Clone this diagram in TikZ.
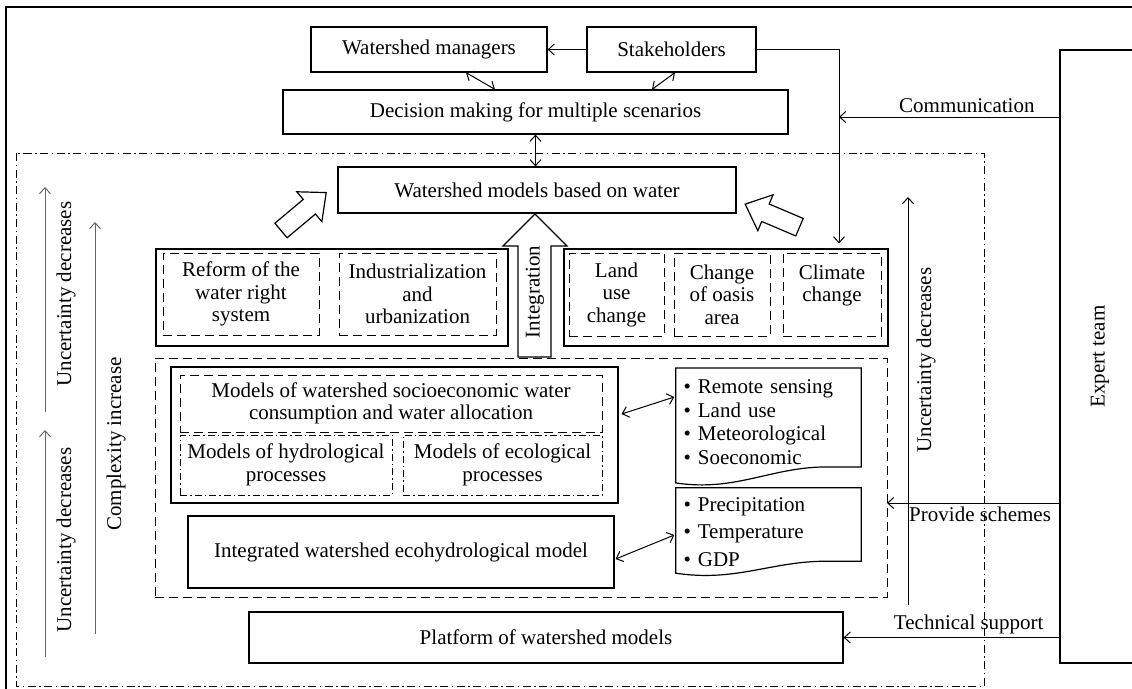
\documentclass[tikz,border=0pt]{standalone}
\usepackage{fontspec}
\setmainfont{Liberation Serif}
\usetikzlibrary{calc,arrows.meta}
\tikzset{hollow/.pic={\draw[line width=1.2pt,fill=white] (0,-9.5) -- (37,-9.5) -- (37,-19.5) -- (59,0) -- (37,19.5) -- (37,9.5) -- (0,9.5) -- cycle;}}

\begin{document}
\begin{tikzpicture}[x=1pt,y=-1pt,
	>={Straight Barb[length=6pt,width=11pt]},
	every node/.style={font=\fontsize{21}{22.5}\selectfont},
	box/.style={draw,line width=1.2pt,align=center,inner sep=0pt},
	dashbox/.style={box,line width=1pt,dash pattern=on 9pt off 5pt},
	dotbox/.style={box,line width=1pt,dash pattern=on 7pt off 3pt on 1.5pt off 3pt},
	doc/.style={inner xsep=7.5pt,inner ysep=0pt,text width=170pt,align=left},
	frame/.style={line width=1pt,dash pattern=on 8pt off 3.5pt on 1.5pt off 3.5pt},
	link/.style={line width=1pt},
	trend/.style={line width=1pt,black!60,->}]
	\useasboundingbox (0,0) rectangle (1132,688);
	\clip (0,0) rectangle (1132,688);
	\draw[line width=1.2pt] (6,700) -- (6,7) -- (1140,7);
	%%%%%%%% top
	\node[box,minimum width=236,minimum height=45] (mgr) at (429,49.5) {Watershed managers};
	\node[box,minimum width=169,minimum height=45] (stake) at (671.5,49.5) {Stakeholders};
	\node[box,minimum width=505,minimum height=44] (decide) at (535.5,112) {Decision making for multiple scenarios};
	\node[box,minimum width=80,minimum height=613] (expert) at (1100,356.5) {\rotatebox{90}{Expert team}};
	\draw[frame] (16,153) rectangle (984,686);
	\node[box,minimum width=398,minimum height=46] (wmodel) at (537,190) {Watershed models based on water};
	%%%%%%%% driving factors
	\node[box,minimum width=352,minimum height=97] (lbox) at (332,297.5) {};
	\node[dashbox,minimum width=156,minimum height=82] (reform) at (241,294) {Reform of the\\water right\\system};
	\node[dashbox,minimum width=157,minimum height=82] (indus) at (417.5,294) {Industrialization\\and\\urbanization};
	\node[box,minimum width=324,minimum height=97] (rbox) at (726,297.5) {};
	\node[dashbox,minimum width=95,minimum height=83] (land) at (616.5,294.5) {Land\\use\\change};
	\node[dashbox,minimum width=96,minimum height=83] (oasis) at (722,294.5) {Change\\of oasis\\area};
	\node[dashbox,minimum width=98,minimum height=83] (climate) at (832,294.5) {Climate\\change\\\mbox{}};
	\draw[line width=1.2pt] (518,357) -- (518,246) -- (503,246) -- (535,214) -- (567,246) -- (551,246) -- (551,357) -- cycle;
	\node[rotate=90] (integr) at (535,292) {Integration};
	\pic[rotate=40] at (281,230.5) {hollow};
	\pic[rotate=157] at (799.5,227.2) {hollow};
	%%%%%%%% models
	\node[dashbox,minimum width=732,minimum height=239] (zone) at (521,477.5) {};
	\node[box,minimum width=447,minimum height=136] (msbox) at (394.5,435) {};
	\node[dashbox,minimum width=422,minimum height=57] (socio) at (391,403.5) {Models of watershed socioeconomic water\\consumption and water allocation};
	\node[dotbox,minimum width=212,minimum height=60] (hydro) at (286,465) {Models of hydrological\\processes};
	\node[dotbox,minimum width=199,minimum height=60] (eco) at (502.5,465) {Models of ecological\\processes};
	\node[box,minimum width=426,minimum height=72] (integ) at (401,552) {Integrated watershed ecohydrological model};
	\node[box,minimum width=594,minimum height=51] (platform) at (546,637.5) {Platform of watershed models};
	\node[doc,minimum height=107.5] (data) at (768.5,422) {\textbullet{} Remote sensing\\[1pt]\textbullet{} Land use\\[1pt]\textbullet{} Meteorological\\[1pt]\textbullet{} Soeconomic};
	\node[doc,minimum height=88] (data2) at (768.5,532) {\textbullet{} Precipitation\\[5pt]\textbullet{} Temperature\\[5pt]\textbullet{} GDP};
	\draw[line width=1.2pt] (data.north west) -- (data.north east) -- ($(data.south east)+(0,-9)$) -- ($(data.south east)+(-35,-9)$) .. controls ($(data.south east)+(-90,-9)$) and ($(data.south west)+(60,16)$) .. ($(data.south west)+(0,7)$) -- cycle;
	\draw[line width=1.2pt] (data2.north west) -- (data2.north east) -- ($(data2.south east)+(0,-15)$) -- ($(data2.south east)+(-35,-15)$) .. controls ($(data2.south east)+(-90,-15)$) and ($(data2.south west)+(60,6)$) .. ($(data2.south west)+(0,-3)$) -- cycle;
	%%%%%%%% links
	\draw[link,->] (stake.west) -- (mgr.east);
	\draw[link,<->] ([xshift=37pt]mgr.south) -- ([xshift=-40.5pt]decide.north);
	\draw[link,<->] ([xshift=3.5pt]stake.south) -- ([xshift=116.5pt]decide.north);
	\draw[link,<->] (decide.south) -- (decide.south |- wmodel.north);
	\draw[link,->] (stake.east) -| ([xshift=113pt,yshift=5pt]rbox.north);
	\coordinate (comm) at (839,117);
	\draw[link,->] (expert.west |- comm) -- (comm) node[pos=0.42,above] {Communication};
	\coordinate (schemes) at (887,503);
	\draw[link,->] (expert.west |- schemes) -- (schemes) node[pos=0.46,below] {Provide schemes};
	\draw[link,->] (expert.west |- platform) -- (platform.east) node[pos=0.42,above] {Technical support};
	\draw[link,<->] ($(msbox.east)+(3,-21)$) -- ($(data.west)+(-1.5,-25)$);
	\draw[link,<->] ($(integ.east)+(1,7)$) -- ($(data2.west)+(-1.5,3)$);
	%%%%%%%% trends
	\draw[link,->] (908,605) -- (908,197);
	\node[rotate=90] (unc3) at (926,360) {Uncertainty decreases};
	\draw[trend] (45,412) -- (45,187);
	\node[rotate=90] (unc1) at (66,294) {Uncertainty decreases};
	\draw[trend] (45,657) -- (45,430);
	\node[rotate=90] (unc2) at (66,540) {Uncertainty decreases};
	\draw[trend] (95,634) -- (95,222);
	\node[rotate=90] (cplx) at (116,444) {Complexity increase};
\end{tikzpicture}
\end{document}
